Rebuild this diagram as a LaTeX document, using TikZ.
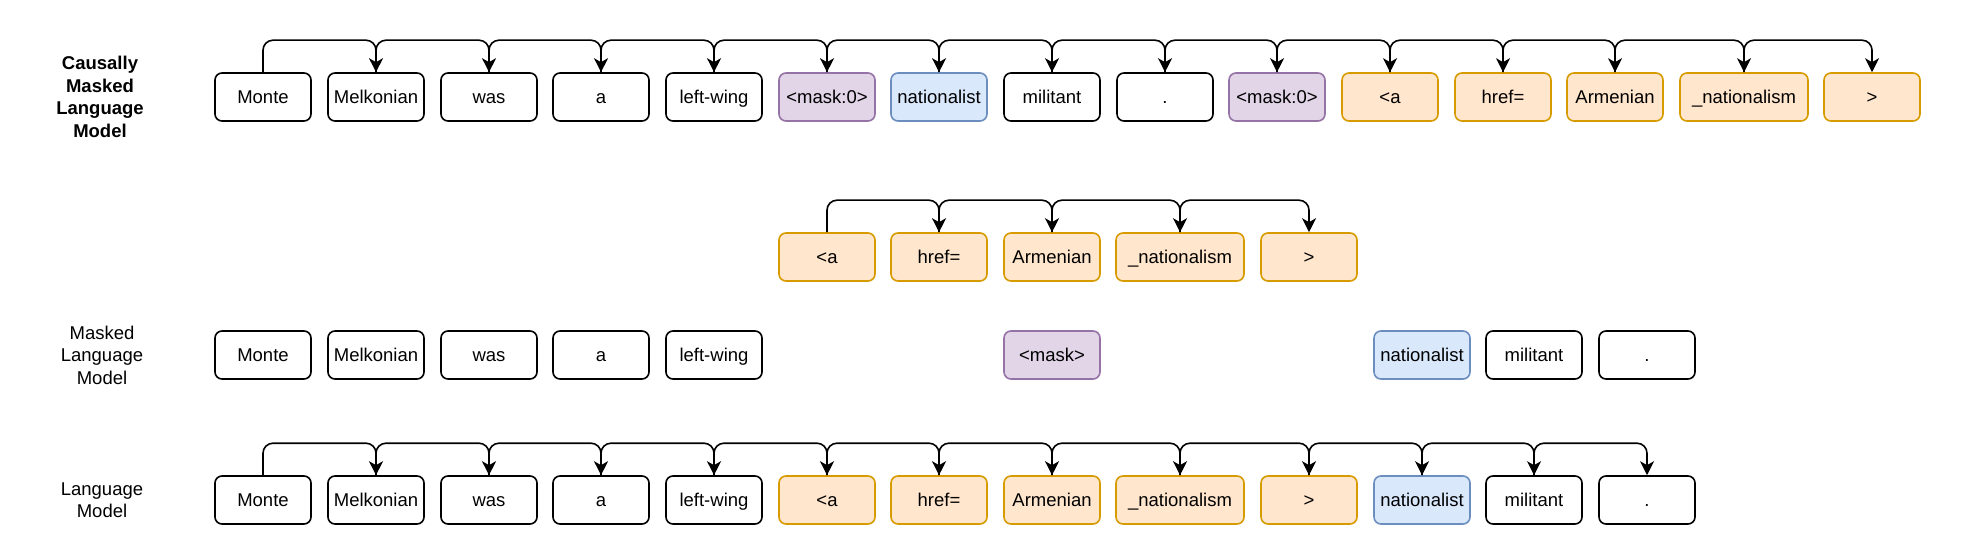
\documentclass[tikz,border=0pt]{standalone}
\usepackage{fontspec}
\setmainfont{Liberation Sans}
\usetikzlibrary{arrows.meta}

\definecolor{maskfill}{HTML}{E1D5E7}
\definecolor{maskline}{HTML}{9673A6}
\definecolor{nounfill}{HTML}{DAE8FC}
\definecolor{nounline}{HTML}{6C8EBF}
\definecolor{linkfill}{HTML}{FFE6CC}
\definecolor{linkline}{HTML}{D79B00}

\tikzset{
    tok/.style={draw, line width=1.6pt, rounded corners=7pt, fill=white,
        minimum width=96pt, minimum height=48pt, inner sep=0pt,
        text height=16.5pt, text depth=3.7pt,
        font=\fontsize{18.5}{22}\selectfont},
    widetok/.style={tok, minimum width=128pt},
    masktok/.style={fill=maskfill, draw=maskline},
    nountok/.style={fill=nounfill, draw=nounline},
    linktok/.style={fill=linkfill, draw=linkline},
    rowlabel/.style={align=center, font=\fontsize{18.5}{22.5}\selectfont},
    nxt/.style={draw, line width=1.6pt, rounded corners=10pt,
        -{Stealth[length=14pt, width=14pt, inset=4pt]}},
}

\begin{document}
\begin{tikzpicture}[x=1pt, y=-1pt]
    \useasboundingbox (0,0) rectangle (1988,556);

    % Causally masked language model
    \node[rowlabel, font=\fontsize{18.5}{22.5}\selectfont\bfseries] (cmlabel) at (100, 97) {Causally\\Masked\\Language\\Model};
    \node[tok] (cm1) at (263, 97) {Monte};
    \node[tok] (cm2) at (376, 97) {Melkonian};
    \node[tok] (cm3) at (489, 97) {was};
    \node[tok] (cm4) at (601, 97) {a};
    \node[tok] (cm5) at (714, 97) {left-wing};
    \node[tok, masktok] (cm6) at (827, 97) {<mask:0>};
    \node[tok, nountok] (cm7) at (939, 97) {nationalist};
    \node[tok] (cm8) at (1052, 97) {militant};
    \node[tok] (cm9) at (1165, 97) {.};
    \node[tok, masktok] (cm10) at (1277, 97) {<mask:0>};
    \node[tok, linktok] (cm11) at (1390, 97) {<a};
    \node[tok, linktok] (cm12) at (1503, 97) {href=};
    \node[tok, linktok] (cm13) at (1615, 97) {Armenian};
    \node[widetok, linktok] (cm14) at (1744, 97) {\_nationalism};
    \node[tok, linktok] (cm15) at (1872, 97) {>};
    \foreach \i in {1,...,14} {
        \pgfmathtruncatemacro\j{\i+1}
        \draw[nxt] (cm\i.north) -- ++(0,-32) -| (cm\j.north);
    }

    % Span that fills the mask
    \node[tok, linktok] (sp1) at (827, 257) {<a};
    \node[tok, linktok] (sp2) at (939, 257) {href=};
    \node[tok, linktok] (sp3) at (1052, 257) {Armenian};
    \node[widetok, linktok] (sp4) at (1180, 257) {\_nationalism};
    \node[tok, linktok] (sp5) at (1309, 257) {>};
    \foreach \i in {1,...,4} {
        \pgfmathtruncatemacro\j{\i+1}
        \draw[nxt] (sp\i.north) -- ++(0,-32) -| (sp\j.north);
    }

    % Masked language model
    \node[rowlabel] (mlabel) at (102, 355) {Masked\\Language\\Model};
    \node[tok] (m1) at (263, 355) {Monte};
    \node[tok] (m2) at (376, 355) {Melkonian};
    \node[tok] (m3) at (489, 355) {was};
    \node[tok] (m4) at (601, 355) {a};
    \node[tok] (m5) at (714, 355) {left-wing};
    \node[tok, masktok] (m6) at (1052, 355) {<mask>};
    \node[tok, nountok] (m7) at (1422, 355) {nationalist};
    \node[tok] (m8) at (1534, 355) {militant};
    \node[tok] (m9) at (1647, 355) {.};

    % Language model
    \node[rowlabel] (llabel) at (102, 500) {Language\\Model};
    \node[tok] (l1) at (263, 500) {Monte};
    \node[tok] (l2) at (376, 500) {Melkonian};
    \node[tok] (l3) at (489, 500) {was};
    \node[tok] (l4) at (601, 500) {a};
    \node[tok] (l5) at (714, 500) {left-wing};
    \node[tok, linktok] (l6) at (827, 500) {<a};
    \node[tok, linktok] (l7) at (939, 500) {href=};
    \node[tok, linktok] (l8) at (1052, 500) {Armenian};
    \node[widetok, linktok] (l9) at (1180, 500) {\_nationalism};
    \node[tok, linktok] (l10) at (1309, 500) {>};
    \node[tok, nountok] (l11) at (1422, 500) {nationalist};
    \node[tok] (l12) at (1534, 500) {militant};
    \node[tok] (l13) at (1647, 500) {.};
    \foreach \i in {1,...,12} {
        \pgfmathtruncatemacro\j{\i+1}
        \draw[nxt] (l\i.north) -- ++(0,-32) -| (l\j.north);
    }
\end{tikzpicture}
\end{document}
